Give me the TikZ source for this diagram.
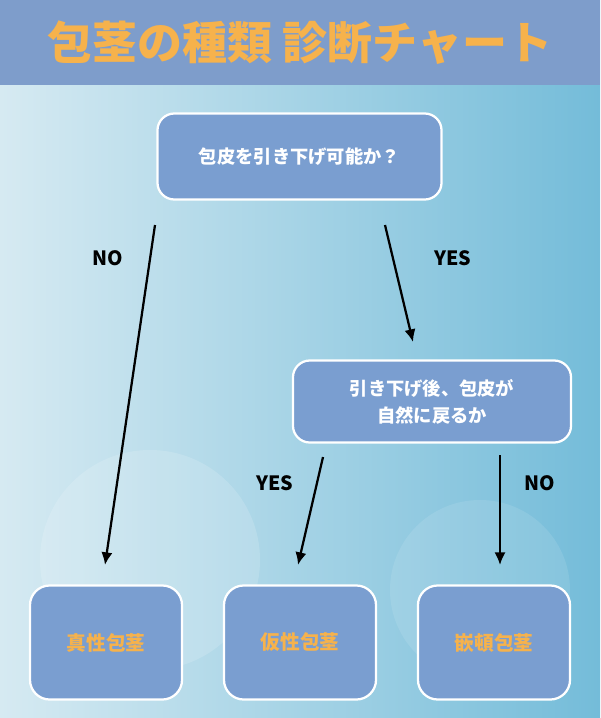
\documentclass[tikz,border=0pt]{standalone}
\usepackage{fontspec}
\setmainfont{Noto Sans CJK JP}
\usetikzlibrary{arrows.meta}
\definecolor{titlebar}{HTML}{7E9DCB}
\definecolor{titletext}{HTML}{F6B24C}
\definecolor{boxfill}{HTML}{7A9ED0}
\definecolor{bgleft}{HTML}{D6EAF2}
\definecolor{bgright}{HTML}{74BCD9}
\begin{document}
\begin{tikzpicture}[x=0.025cm, y=-0.025cm,
        question/.style={rectangle, rounded corners=12pt, draw=white, line width=1.6pt, fill=boxfill, text=white, font=\bfseries\fontsize{13}{19}\selectfont, align=center},
        result/.style={rectangle, rounded corners=14pt, draw=white, line width=1.6pt, fill=boxfill, text=titletext, font=\bfseries\fontsize{14}{16}\selectfont, minimum width=3.8cm, minimum height=2.85cm},
        arrow/.style={-{Latex[length=9pt,width=8pt]}, line width=1.6pt, black},
        answer/.style={font=\bfseries\fontsize{14}{16}\selectfont, text=black}
    ]
    \useasboundingbox (0,0) rectangle (600,718);
    % background
    \shade[left color=bgleft, right color=bgright] (0,0) rectangle (600,718);
    \fill[white, opacity=0.15] (150,560) circle (110);
    \fill[white, opacity=0.1] (480,590) circle (90);
    % title
    \fill[titlebar] (0,0) rectangle (600,85);
    \node[text=titletext, font=\bfseries\fontsize{32}{36}\selectfont] (title) at (300,43) {包茎の種類 診断チャート};
    % questions
    \node[question, minimum width=7.1cm, minimum height=2.15cm] (q1) at (299.5,156.5) {包皮を引き下げ可能か？};
    \node[question, minimum width=6.95cm, minimum height=2.05cm] (q2) at (432,401.5) {引き下げ後、包皮が\\自然に戻るか};
    % results
    \node[result] (r1) at (106,642.5) {真性包茎};
    \node[result] (r2) at (300,642.5) {仮性包茎};
    \node[result] (r3) at (494,642.5) {嵌頓包茎};
    % arrow ends
    \coordinate (a1) at (155,225);
    \coordinate (b1) at (105,565);
    \coordinate (a2) at (385,225);
    \coordinate (b2) at (413,342);
    \coordinate (a3) at (323,457);
    \coordinate (b3) at (298,565);
    \coordinate (a4) at (500,455);
    \coordinate (b4) at (500,565);
    \draw[arrow] (a1) -- (b1);
    \draw[arrow] (a2) -- (b2);
    \draw[arrow] (a3) -- (b3);
    \draw[arrow] (a4) -- (b4);
    % labels
    \node[answer] (no1) at (108,258) {NO};
    \node[answer] (yes1) at (453,258) {YES};
    \node[answer] (yes2) at (275,483) {YES};
    \node[answer] (no2) at (540,483) {NO};
\end{tikzpicture}
\end{document}
